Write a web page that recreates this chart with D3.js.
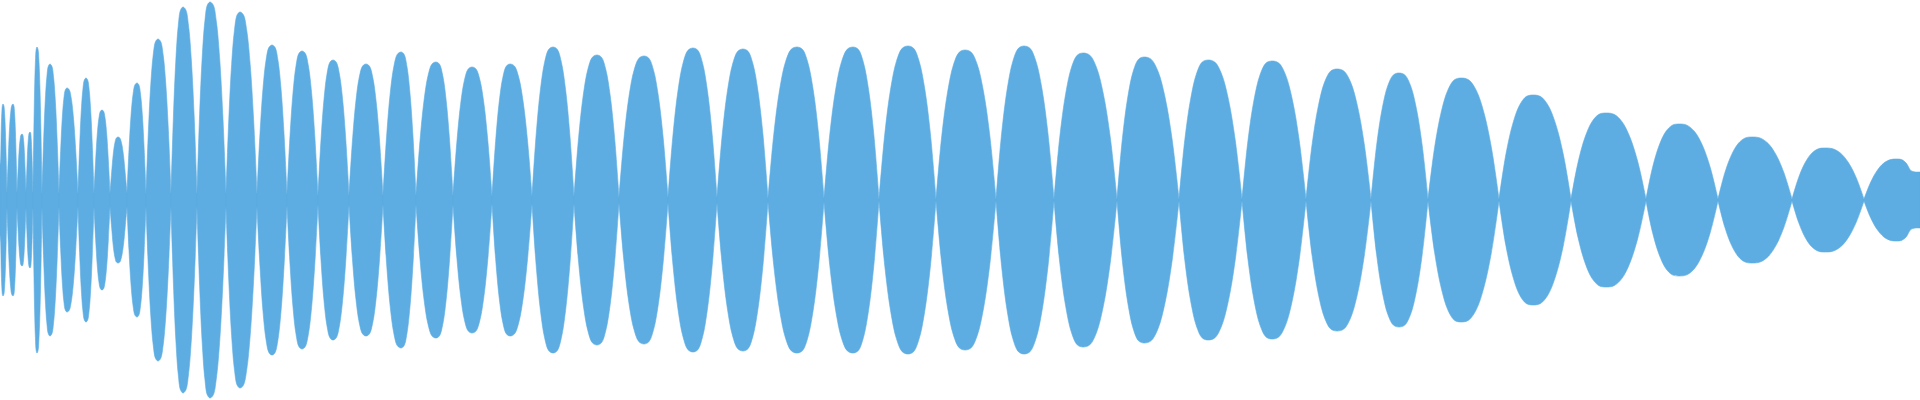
<!DOCTYPE html>
<html><head><meta charset="utf-8">
<script src="https://cdn.jsdelivr.net/npm/d3@7"></script>
<style>html,body{margin:0;padding:0;background:#fff;overflow:hidden}</style>
</head><body><svg id="c" width="1920" height="400"></svg>
<script>
const nodeX = [0,7,17,26,33,42,59,78,94,110,127,146,171,197,226,257,287,318,349,383,416,453,492,532,574,619,668,717,768,824,879,936,996,1054,1117,1179,1242,1306,1371,1428,1499,1571,1646,1718,1792,1864,1920];
const nodeAmp = [35,8,8,8,8,7,7,7,7,7,7,7,7,7,7,7,6,5,5,5,5,5,4,4,4,3,3,3,2,2,1,1,1,1,1,1,1,1,1,1,1,1,1,1,1,1,28];
const peakX = [3,13,22,30,37,50,67,86,102,118,137,158,183,210,240,272,302,333,366,401,436,472,510,553,597,644,693,743,797,853,908,965,1024,1083,1144,1208,1272,1337,1399,1461,1533,1606,1679,1752,1825,1897];
const peakAmp = [96,96,66,68,153,136,112,122,90,63,117,161,193,198,188,155,149,140,136,148,138,133,136,153,145,144,152,151,153,153,154,150,154,147,143,140,139,131,127,122,105,87,76,63,52,41];
// lobe profile: fraction of the way from node to peak -> fraction of peak height
const profileT = [0.2, 0.4, 0.6, 0.8];
const profileV = [0.43, 0.72, 0.90, 0.985];

const svg = d3.select('#c');
const x = d3.scaleLinear().domain([0,1920]).range([0,1920]);
const y = d3.scaleLinear().domain([-200,200]).range([400,0]);
const area = d3.area().x(d=>x(d[0])).y0(d=>y(-d[1])).y1(d=>y(d[1])).curve(d3.curveCatmullRom.alpha(0.5));
const lobes = peakX.map((p,i)=>{
  const a=nodeX[i], b=nodeX[i+1], A=peakAmp[i];
  const pts=[[a,nodeAmp[i]]];
  profileT.forEach((t,k)=>pts.push([a+(p-a)*t, Math.max(nodeAmp[i], A*profileV[k])]));
  pts.push([p,A]);
  for(let k=profileT.length-1;k>=0;k--) pts.push([b-(b-p)*profileT[k], Math.max(nodeAmp[i+1], A*profileV[k])]);
  pts.push([b,nodeAmp[i+1]]);
  return pts;
});
svg.selectAll('path').data(lobes).join('path').attr('d',area).attr('fill','#5dade2').attr('stroke','#5dade2').attr('stroke-width',0.6);
</script></body></html>
